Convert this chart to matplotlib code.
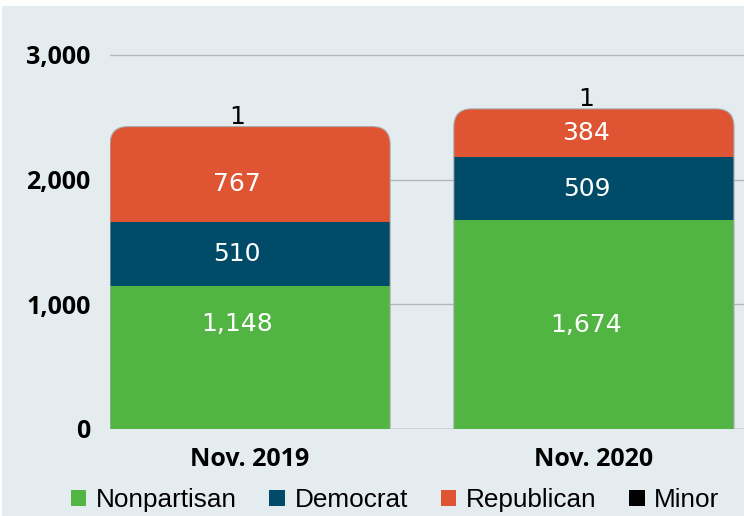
import matplotlib
matplotlib.use("Agg")
import matplotlib.pyplot as plt
from matplotlib.patches import FancyBboxPatch, Patch, Rectangle

# data
periods = ['Nov. 2019', 'Nov. 2020']
nonpartisan = [1148, 1674]
democrat = [510, 509]
republican = [767, 384]
minor = [1, 1]

series_names = ['Nonpartisan', 'Democrat', 'Republican', 'Minor']
series_colors = ['#52b443', '#004c68', '#df5433', '#000000']
label_colors = ['white', 'white', 'white', 'black']

BG = '#e5ecf0'
W = 0.815  # bar width
RADIUS_PX = 18  # corner rounding in pixels
PT = 72 / 100  # pixels -> points

# label nudges in pixels (the original labels sit a bit off the segment centres)
label_dx = [-13, -7.5]
label_dy = {(0, 0): 33, (2, 0): -9.5}

fig = plt.figure(figsize=(7.44, 5.16), dpi=100, facecolor='white')
# light panel behind everything (thin white strip top/left like the original)
fig.patches.append(Rectangle((2 / 744, 0), 1, 1 - 6 / 516, transform=fig.transFigure,
                             facecolor=BG, edgecolor='none', zorder=-10))

ax = fig.add_axes([110 / 744, 87 / 516, 634 / 744, 386.5 / 516])
ax.set_facecolor('none')
ax.set_xlim(-W / 2, 1 + W / 2 + 10 / 343.8)
ax.set_ylim(0, 3100)

x = list(range(len(periods)))
stacks = [nonpartisan, democrat, republican, minor]

bottoms = [0] * len(periods)
containers = []
for vals, color in zip(stacks, series_colors):
    bars = ax.bar(x, vals, width=W, bottom=bottoms, color=color, edgecolor='none', zorder=2)
    containers.append((bars, vals, list(bottoms)))
    bottoms = [b + v for b, v in zip(bottoms, vals)]

# rounded tops: clip each stack to a rounded box (pixel radius -> data units)
p0 = ax.transData.transform((0, 0))
p1 = ax.transData.transform((1, 1000))
px_x = p1[0] - p0[0]
px_y = (p1[1] - p0[1]) / 1000
rx = RADIUS_PX / px_x
ry = RADIUS_PX / px_y
for i, total in enumerate(bottoms):
    shape = FancyBboxPatch((x[i] - W / 2, -2000), W, total + 2000,
                           boxstyle=f"round,pad=0,rounding_size={rx}",
                           mutation_aspect=ry / rx,
                           facecolor='none', edgecolor='#a9adb0', linewidth=0.8,
                           transform=ax.transData, zorder=3)
    ax.add_patch(shape)
    for bars, _, _ in containers:
        bars[i].set_clip_path(shape)

# value labels
for k, ((bars, vals, bots), lc) in enumerate(zip(containers, label_colors)):
    for i, v in enumerate(vals):
        dx = label_dx[i] * PT
        if lc == 'black':
            ax.annotate(f'{v:,}', (x[i], bots[i] + v), xytext=(dx, 3 * PT),
                        textcoords='offset points', ha='center', va='baseline',
                        fontsize=18, color=lc, zorder=4, annotation_clip=False)
        else:
            dy = label_dy.get((k, i), 0) * PT
            ax.annotate(f'{v:,}', (x[i], bots[i] + v / 2), xytext=(dx, dy),
                        textcoords='offset points', ha='center', va='center',
                        fontsize=18, color=lc, zorder=4)

ax.axhline(0, color='#9a9ea1', linewidth=1, zorder=1)
ax.set_yticks([0, 1000, 2000, 3000])
ax.set_yticklabels(['0', '1,000', '2,000', '3,000'])
ax.set_xticks(x)
ax.set_xticklabels(periods)
ax.yaxis.grid(True, color='#b3b6b8', linewidth=1, zorder=0)
ax.set_axisbelow(True)
for s in ax.spines.values():
    s.set_visible(False)
ax.tick_params(axis='both', length=0)
ax.tick_params(axis='y', pad=14)
ax.tick_params(axis='x', pad=13)
for lab in ax.get_yticklabels() + ax.get_xticklabels():
    lab.set_fontfamily('Open Sans')
    lab.set_fontweight('bold')
    lab.set_fontsize(18)

handles = [Patch(facecolor=c, edgecolor='none', label=n) for n, c in zip(series_names, series_colors)]
fig.legend(handles=handles, loc='center', bbox_to_anchor=(395 / 744, 16 / 516), ncol=4,
           frameon=False, prop={'family': 'Liberation Sans', 'size': 18.8},
           handlelength=0.6, handleheight=0.6, handletextpad=0.36, columnspacing=1.25,
           borderpad=0, borderaxespad=0)

fig.savefig('out.png', dpi=100, facecolor='white')
